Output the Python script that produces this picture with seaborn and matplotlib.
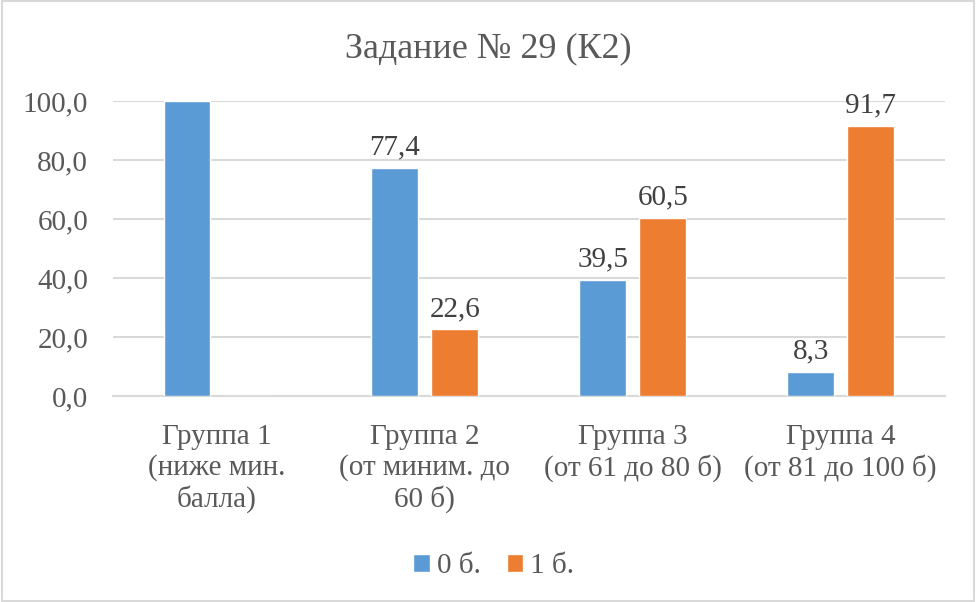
import seaborn as sns
import matplotlib.pyplot as plt
import matplotlib.patches as mpatches
import pandas as pd

groups = ['Группа 1\n(ниже мин.\nбалла)', 'Группа 2\n(от миним. до\n60 б)',
          'Группа 3\n(от 61 до 80 б)', 'Группа 4\n(от 81 до 100 б)']
series = ['0 б.', '1 б.']
vals_0 = [100.0, 77.4, 39.5, 8.3]
vals_1 = [0.0, 22.6, 60.5, 91.7]
yticks = [0, 20, 40, 60, 80, 100]

df = pd.DataFrame({
    'group': groups * 2,
    'series': [series[0]] * 4 + [series[1]] * 4,
    'value': vals_0 + vals_1,
})

sns.set_theme(style='white')
plt.rcParams['font.family'] = 'serif'
plt.rcParams['font.serif'] = ['Liberation Serif', 'DejaVu Serif']
txt = '#595959'

fig = plt.figure(figsize=(9.76, 6.02), dpi=100)
ax = fig.add_axes([0.1158, 0.342, 0.852, 0.49])
sns.barplot(data=df, x='group', y='value', hue='series', hue_order=series,
            palette=['#5B9BD5', '#ED7D31'], saturation=1, width=0.577, gap=0.22,
            ax=ax, legend=True, zorder=3)

ax.set_ylim(0, 100)
ax.set_yticks(yticks)
ax.set_yticklabels([f'{v:.1f}'.replace('.', ',') for v in yticks], fontsize=21, color=txt)
ax.tick_params(axis='x', labelsize=21, labelcolor=txt, length=0, pad=20)
ax.tick_params(axis='y', length=0, pad=18)
ax.set_xlabel('')
ax.set_ylabel('')
ax.grid(axis='y', color='#d9d9d9', linewidth=1.5, zorder=0)
for s in ['top', 'right', 'left']:
    ax.spines[s].set_visible(False)
ax.spines['bottom'].set_color('#d9d9d9')
ax.spines['bottom'].set_linewidth(1.5)
for lbl in ax.get_xticklabels():
    lbl.set_linespacing(1.2)

for cont in ax.containers:
    labels = []
    for bar in cont:
        h = bar.get_height()
        labels.append('' if h in (0, 100) else f'{h:.1f}'.replace('.', ','))
    ax.bar_label(cont, labels=labels, padding=5, fontsize=21, color='#404040')

# legend sits a bit left of the plot centre, as in the original
ax.legend(loc='upper center', bbox_to_anchor=(0.458, -0.444), ncol=2, frameon=False,
          fontsize=21, labelcolor=txt, handlelength=0.55, handleheight=0.55,
          handletextpad=0.25, columnspacing=0.9)

fig.suptitle('Задание № 29 (К2)', y=0.947, fontsize=26, color=txt)
fig.patches.append(mpatches.Rectangle((0.002, 0.002), 0.996, 0.996, transform=fig.transFigure,
                                      fill=False, edgecolor='#d9d9d9', linewidth=1.5))

fig.savefig('out.png', dpi=100)
